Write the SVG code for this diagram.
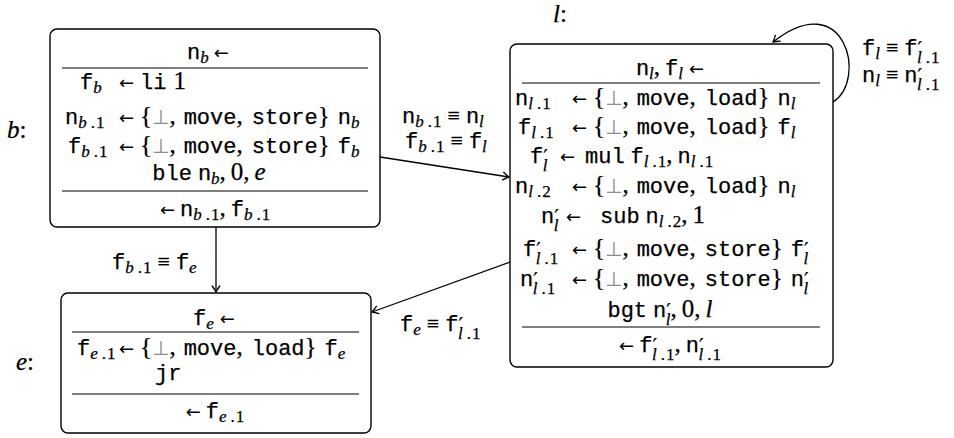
<svg xmlns="http://www.w3.org/2000/svg" width="954" height="438" viewBox="0 0 954 438">
<defs>
  <style>
    text { font-family: "Liberation Serif", "DejaVu Serif", serif; font-size: 25px; fill: #000; stroke: #000; stroke-width: 0.25; }
    .t { font-family: "Liberation Mono", "DejaVu Sans Mono", monospace; font-size: 22px; }
    .i { font-style: italic; }
    .s { font-size: 17px; }
    .a { font-family: "DejaVu Sans", sans-serif; font-size: 18px; stroke-width: 0; }
    .q { font-family: "Liberation Serif", "DejaVu Sans", serif; font-size: 22px; }
    .g { font-family: "DejaVu Sans", sans-serif; font-size: 20px; fill: #8c8c8c; stroke: none; }
    .p { font-family: "DejaVu Sans", sans-serif; font-size: 20px; }
    .box { fill: #fff; stroke: #000; stroke-width: 1.4; }
    .rule { stroke: #555; stroke-width: 1.3; }
    .edge { fill: none; stroke: #000; stroke-width: 1.3; marker-end: url(#tip); }
  </style>
  <marker id="tip" viewBox="-7 -5 8 10" refX="0" refY="0" markerWidth="8" markerHeight="10" orient="auto" markerUnits="userSpaceOnUse">
    <path d="M -6 -3.8 Q -2 -0.9 0 0 Q -2 0.9 -6 3.8" fill="none" stroke="#000" stroke-width="1.3" stroke-linecap="round" stroke-linejoin="round"/>
  </marker>
</defs>

<!-- block b -->
<g id="node-b">
  <text x="7" y="138"><tspan class="i">b</tspan>:</text>
  <rect class="box" x="50" y="29" width="330" height="198" rx="7"/>
  <line class="rule" x1="62" y1="68" x2="368" y2="68"/>
  <line class="rule" x1="62" y1="191" x2="368" y2="191"/>
  <text x="187" y="59"><tspan class="t">n</tspan><tspan class="s i" dy="4">b</tspan><tspan class="a" dx="5" dy="-4">←</tspan></text>
  <text x="80" y="89"><tspan class="t">f</tspan><tspan class="s i" dy="4">b</tspan><tspan class="a" x="119" dy="-4">←</tspan><tspan class="t" x="140">li</tspan><tspan dx="7">1</tspan></text>
  <text x="65" y="124"><tspan class="t">n</tspan><tspan class="s" dy="4"><tspan class="i">b</tspan><tspan dx="4">.</tspan><tspan dx="1">1</tspan></tspan><tspan class="a" x="119" dy="-4">←</tspan><tspan x="140">{</tspan><tspan class="g">⊥</tspan>,<tspan class="t" dx="8">move</tspan>,<tspan class="t" dx="9">store</tspan>}<tspan class="t" dx="8">n</tspan><tspan class="s i" dy="4">b</tspan></text>
  <text x="68" y="153"><tspan class="t">f</tspan><tspan class="s" dy="4"><tspan class="i">b</tspan><tspan dx="4">.</tspan><tspan dx="1">1</tspan></tspan><tspan class="a" x="119" dy="-4">←</tspan><tspan x="140">{</tspan><tspan class="g">⊥</tspan>,<tspan class="t" dx="8">move</tspan>,<tspan class="t" dx="9">store</tspan>}<tspan class="t" dx="8">f</tspan><tspan class="s i" dy="4">b</tspan></text>
  <text x="209" y="180" text-anchor="middle"><tspan class="t">ble</tspan><tspan class="t" dx="6">n</tspan><tspan class="s i" dy="4">b</tspan><tspan dy="-4">,</tspan><tspan dx="5">0,</tspan><tspan class="i" dx="5">e</tspan></text>
  <text x="215" y="216" text-anchor="middle"><tspan class="a">←</tspan><tspan class="t" dx="5">n</tspan><tspan class="s" dy="4"><tspan class="i">b</tspan><tspan dx="4">.</tspan><tspan dx="1">1</tspan></tspan><tspan dy="-4">,</tspan><tspan class="t" dx="5">f</tspan><tspan class="s" dy="4"><tspan class="i">b</tspan><tspan dx="4">.</tspan><tspan dx="1">1</tspan></tspan></text>
</g>

<!-- block l -->
<g id="node-l">
  <text x="553" y="22"><tspan class="i">l</tspan>:</text>
  <rect class="box" x="510" y="44" width="323" height="323" rx="7"/>
  <line class="rule" x1="522" y1="83" x2="820" y2="83"/>
  <line class="rule" x1="522" y1="327" x2="820" y2="327"/>
  <text x="670" y="75" text-anchor="middle"><tspan class="t">n</tspan><tspan class="s i" dy="4">l</tspan><tspan dy="-4">,</tspan><tspan class="t" dx="5">f</tspan><tspan class="s i" dy="4">l</tspan><tspan class="a" dx="6" dy="-4">←</tspan></text>
  <text x="515" y="105"><tspan class="t">n</tspan><tspan class="s" dy="4"><tspan class="i">l</tspan><tspan dx="4">.</tspan><tspan dx="1">1</tspan></tspan><tspan class="a" x="572" dy="-4">←</tspan><tspan x="593">{</tspan><tspan class="g">⊥</tspan>,<tspan class="t" dx="8">move</tspan>,<tspan class="t" dx="9">load</tspan>}<tspan class="t" dx="8">n</tspan><tspan class="s i" dy="4">l</tspan></text>
  <text x="518" y="134"><tspan class="t">f</tspan><tspan class="s" dy="4"><tspan class="i">l</tspan><tspan dx="4">.</tspan><tspan dx="1">1</tspan></tspan><tspan class="a" x="572" dy="-4">←</tspan><tspan x="593">{</tspan><tspan class="g">⊥</tspan>,<tspan class="t" dx="8">move</tspan>,<tspan class="t" dx="9">load</tspan>}<tspan class="t" dx="8">f</tspan><tspan class="s i" dy="4">l</tspan></text>
  <text x="530" y="163"><tspan class="t">f</tspan><tspan class="p">′</tspan><tspan class="s i" dx="-5" dy="8">l</tspan><tspan class="a" x="560" dy="-8">←</tspan><tspan class="t" x="585">mul</tspan><tspan class="t" dx="6">f</tspan><tspan class="s" dy="4"><tspan class="i">l</tspan><tspan dx="4">.</tspan><tspan dx="1">1</tspan></tspan><tspan dy="-4">,</tspan><tspan class="t" dx="5">n</tspan><tspan class="s" dy="4"><tspan class="i">l</tspan><tspan dx="4">.</tspan><tspan dx="1">1</tspan></tspan></text>
  <text x="515" y="193"><tspan class="t">n</tspan><tspan class="s" dy="4"><tspan class="i">l</tspan><tspan dx="4">.</tspan><tspan dx="1">2</tspan></tspan><tspan class="a" x="572" dy="-4">←</tspan><tspan x="593">{</tspan><tspan class="g">⊥</tspan>,<tspan class="t" dx="8">move</tspan>,<tspan class="t" dx="9">load</tspan>}<tspan class="t" dx="8">n</tspan><tspan class="s i" dy="4">l</tspan></text>
  <text x="541" y="223"><tspan class="t">n</tspan><tspan class="p">′</tspan><tspan class="s i" dx="-5" dy="8">l</tspan><tspan class="a" x="566" dy="-8">←</tspan><tspan class="t" x="600">sub</tspan><tspan class="t" dx="6">n</tspan><tspan class="s" dy="4"><tspan class="i">l</tspan><tspan dx="4">.</tspan><tspan dx="1">2</tspan></tspan><tspan dy="-4">,</tspan><tspan dx="5">1</tspan></text>
  <text x="523" y="256"><tspan class="t">f</tspan><tspan class="p">′</tspan><tspan class="s" dx="-5" dy="8"><tspan class="i">l</tspan><tspan dx="4">.</tspan><tspan dx="1">1</tspan></tspan><tspan class="a" x="572" dy="-8">←</tspan><tspan x="593">{</tspan><tspan class="g">⊥</tspan>,<tspan class="t" dx="8">move</tspan>,<tspan class="t" dx="9">store</tspan>}<tspan class="t" dx="8">f</tspan><tspan class="p">′</tspan><tspan class="s i" dx="-5" dy="8">l</tspan></text>
  <text x="520" y="286"><tspan class="t">n</tspan><tspan class="p">′</tspan><tspan class="s" dx="-5" dy="8"><tspan class="i">l</tspan><tspan dx="4">.</tspan><tspan dx="1">1</tspan></tspan><tspan class="a" x="572" dy="-8">←</tspan><tspan x="593">{</tspan><tspan class="g">⊥</tspan>,<tspan class="t" dx="8">move</tspan>,<tspan class="t" dx="9">store</tspan>}<tspan class="t" dx="8">n</tspan><tspan class="p">′</tspan><tspan class="s i" dx="-5" dy="8">l</tspan></text>
  <text x="660" y="317" text-anchor="middle"><tspan class="t">bgt</tspan><tspan class="t" dx="6">n</tspan><tspan class="p">′</tspan><tspan class="s i" dx="-5" dy="8">l</tspan><tspan dy="-8">,</tspan><tspan dx="5">0,</tspan><tspan class="i" dx="5">l</tspan></text>
  <text x="670" y="352" text-anchor="middle"><tspan class="a">←</tspan><tspan class="t" dx="5">f</tspan><tspan class="p">′</tspan><tspan class="s" dx="-5" dy="8"><tspan class="i">l</tspan><tspan dx="4">.</tspan><tspan dx="1">1</tspan></tspan><tspan dy="-8">,</tspan><tspan class="t" dx="5">n</tspan><tspan class="p">′</tspan><tspan class="s" dx="-5" dy="8"><tspan class="i">l</tspan><tspan dx="4">.</tspan><tspan dx="1">1</tspan></tspan></text>
</g>

<!-- block e -->
<g id="node-e">
  <text x="16" y="370"><tspan class="i">e</tspan>:</text>
  <rect class="box" x="61" y="293" width="310" height="140" rx="7"/>
  <line class="rule" x1="72" y1="332" x2="359" y2="332"/>
  <line class="rule" x1="72" y1="394" x2="359" y2="394"/>
  <text x="214" y="325" text-anchor="middle"><tspan class="t">f</tspan><tspan class="s i" dy="4">e</tspan><tspan class="a" dx="6" dy="-4">←</tspan></text>
  <text x="77" y="355"><tspan class="t">f</tspan><tspan class="s" dy="4"><tspan class="i">e</tspan><tspan dx="4">.</tspan><tspan dx="1">1</tspan></tspan><tspan class="a" x="119" dy="-4">←</tspan><tspan x="140">{</tspan><tspan class="g">⊥</tspan>,<tspan class="t" dx="8">move</tspan>,<tspan class="t" dx="9">load</tspan>}<tspan class="t" dx="8">f</tspan><tspan class="s i" dy="4">e</tspan></text>
  <text x="155" y="380" class="t">jr</text>
  <text x="215" y="418" text-anchor="middle"><tspan class="a">←</tspan><tspan class="t" dx="5">f</tspan><tspan class="s" dy="4"><tspan class="i">e</tspan><tspan dx="4">.</tspan><tspan dx="1">1</tspan></tspan></text>
</g>

<!-- control-flow edges and their value equivalences -->
<g id="edges">
  <path class="edge" d="M 216 227 L 216 292"/>
  <path class="edge" d="M 380 157 L 509 177"/>
  <path class="edge" d="M 510 262 L 372 312"/>
  <path class="edge" d="M 833 102 C 868 80, 845 -15, 773 42"/>

  <text x="402" y="123"><tspan class="t">n</tspan><tspan class="s" dy="4"><tspan class="i">b</tspan><tspan dx="4">.</tspan><tspan dx="1">1</tspan></tspan><tspan class="q" dx="6" dy="-4">≡</tspan><tspan class="t" dx="6">n</tspan><tspan class="s i" dy="4">l</tspan></text>
  <text x="405" y="148"><tspan class="t">f</tspan><tspan class="s" dy="4"><tspan class="i">b</tspan><tspan dx="4">.</tspan><tspan dx="1">1</tspan></tspan><tspan class="q" dx="6" dy="-4">≡</tspan><tspan class="t" dx="6">f</tspan><tspan class="s i" dy="4">l</tspan></text>
  <text x="112" y="269"><tspan class="t">f</tspan><tspan class="s" dy="4"><tspan class="i">b</tspan><tspan dx="4">.</tspan><tspan dx="1">1</tspan></tspan><tspan class="q" dx="6" dy="-4">≡</tspan><tspan class="t" dx="6">f</tspan><tspan class="s i" dy="4">e</tspan></text>
  <text x="400" y="331"><tspan class="t">f</tspan><tspan class="s i" dy="4">e</tspan><tspan class="q" dx="6" dy="-4">≡</tspan><tspan class="t" dx="6">f</tspan><tspan class="p">′</tspan><tspan class="s" dx="-5" dy="8"><tspan class="i">l</tspan><tspan dx="4">.</tspan><tspan dx="1">1</tspan></tspan></text>
  <text x="862" y="55"><tspan class="t">f</tspan><tspan class="s i" dy="4">l</tspan><tspan class="q" dx="6" dy="-4">≡</tspan><tspan class="t" dx="6">f</tspan><tspan class="p">′</tspan><tspan class="s" dx="-5" dy="8"><tspan class="i">l</tspan><tspan dx="4">.</tspan><tspan dx="1">1</tspan></tspan></text>
  <text x="862" y="82"><tspan class="t">n</tspan><tspan class="s i" dy="4">l</tspan><tspan class="q" dx="6" dy="-4">≡</tspan><tspan class="t" dx="6">n</tspan><tspan class="p">′</tspan><tspan class="s" dx="-5" dy="8"><tspan class="i">l</tspan><tspan dx="4">.</tspan><tspan dx="1">1</tspan></tspan></text>
</g>
</svg>
